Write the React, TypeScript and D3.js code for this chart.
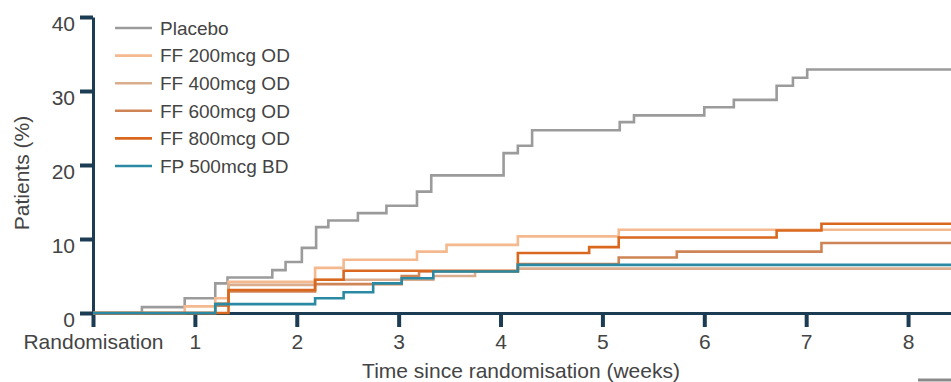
import React, { useEffect, useRef } from "react";
import { select, scaleLinear, axisBottom, axisLeft, line, curveStepAfter } from "d3";

// [weeks, patients %] step points
const placebo = [
  [0, 0], [0.48, 0.8], [0.9, 2.0], [1.2, 4.0], [1.32, 4.8], [1.76, 5.8], [1.89, 6.9],
  [2.05, 8.8], [2.19, 11.6], [2.31, 12.5], [2.6, 13.5], [2.88, 14.5], [3.18, 16.4],
  [3.32, 18.6], [4.03, 21.6], [4.17, 22.6], [4.31, 24.7], [5.17, 25.8], [5.31, 26.7],
  [6.0, 27.8], [6.29, 28.8], [6.71, 30.7], [6.87, 31.8], [7.01, 32.9], [8.5, 32.9],
];
const ff200 = [
  [0, 0], [0.9, 0.9], [1.2, 2.0], [1.33, 4.2], [2.18, 6.1], [2.46, 7.2], [3.18, 8.3],
  [3.47, 9.2], [4.17, 10.35], [5.16, 11.25], [8.5, 11.25],
];
const ff400 = [
  [0, 0], [1.2, 1.3], [1.33, 3.8], [2.18, 4.5], [3.34, 5.0], [3.75, 5.6], [4.17, 6.0], [8.5, 6.0],
];
const ff600 = [
  [0, 0], [1.2, 1.0], [1.33, 2.9], [2.18, 3.9], [3.03, 5.0], [3.2, 5.6], [4.17, 6.6],
  [5.16, 7.5], [5.73, 8.3], [7.15, 9.45], [8.45, 10.0], [8.5, 10.0],
];
const ff800 = [
  [0, 0], [1.33, 3.1], [2.18, 4.5], [2.46, 5.7], [4.17, 8.1], [4.87, 8.9], [5.16, 10.2],
  [6.71, 11.15], [7.15, 12.07], [8.5, 12.07],
];
const fp500 = [
  [0, 0], [1.2, 1.2], [2.18, 2.0], [2.46, 2.8], [2.75, 4.0], [3.03, 4.7], [3.34, 5.6],
  [4.17, 6.5], [8.5, 6.5],
];

const seriesNames = ["Placebo", "FF 200mcg OD", "FF 400mcg OD", "FF 600mcg OD", "FF 800mcg OD", "FP 500mcg BD"];
const seriesData = [placebo, ff200, ff400, ff600, ff800, fp500];
const seriesColors = ["#9b9b9b", "#f4b98f", "#d9ad8d", "#cf8455", "#d9681e", "#2a8aa3"];

const xTicks = [0, 1, 2, 3, 4, 5, 6, 7, 8];
const yTicks = [0, 10, 20, 30, 40];

const W = 951;
const H = 382;
const axisColor = "#1b3c53";
const textColor = "#444444";
const font = "'Liberation Sans', Arial, sans-serif";

function App() {
  const ref = useRef<SVGSVGElement>(null);

  useEffect(() => {
    const svg = select(ref.current);
    svg.selectAll("*").remove();

    const x = scaleLinear().domain([0, 8.5]).range([93, 959]);
    const y = scaleLinear().domain([0, 40]).range([313, 17]);

    // x axis
    const xa = svg.append("g").attr("transform", `translate(0,${y(0)})`);
    xa.call(
      axisBottom(x)
        .tickValues(xTicks)
        .tickSizeInner(14)
        .tickSizeOuter(0)
        .tickPadding(4)
        .tickFormat((d) => (d === 0 ? "Randomisation" : String(d)))
    );
    xa.select(".domain").attr("stroke", axisColor).attr("stroke-width", 3);
    xa.selectAll(".tick line").attr("stroke", axisColor).attr("stroke-width", 4);
    xa.selectAll(".tick text")
      .attr("fill", textColor)
      .attr("font-size", 21)
      .attr("font-family", font)
      .attr("dy", "0.85em");

    // y axis
    const ya = svg.append("g").attr("transform", `translate(${x(0)},0)`);
    ya.call(axisLeft(y).tickValues(yTicks).tickSizeInner(13).tickSizeOuter(0).tickPadding(5));
    ya.select(".domain").attr("stroke", axisColor).attr("stroke-width", 3);
    ya.selectAll(".tick line").attr("stroke", axisColor).attr("stroke-width", 4);
    ya.selectAll(".tick text")
      .attr("fill", textColor)
      .attr("font-size", 21)
      .attr("font-family", font)
      .attr("dy", "0.62em");

    // axis titles
    svg
      .append("text")
      .attr("x", 521)
      .attr("y", 378)
      .attr("text-anchor", "middle")
      .attr("fill", textColor)
      .attr("font-size", 21)
      .attr("font-family", font)
      .text("Time since randomisation (weeks)");
    svg
      .append("text")
      .attr("transform", `translate(29,173) rotate(-90)`)
      .attr("text-anchor", "middle")
      .attr("fill", textColor)
      .attr("font-size", 21)
      .attr("font-family", font)
      .text("Patients (%)");

    // step lines
    const stepLine = line<number[]>()
      .x((d) => x(d[0]))
      .y((d) => y(d[1]))
      .curve(curveStepAfter);
    svg
      .append("g")
      .selectAll("path")
      .data(seriesData)
      .join("path")
      .attr("d", (d) => stepLine(d))
      .attr("fill", "none")
      .attr("stroke", (d, i) => seriesColors[i])
      .attr("stroke-width", 2.6);

    // legend
    const lg = svg
      .append("g")
      .selectAll("g")
      .data(seriesNames)
      .join("g")
      .attr("transform", (d, i) => `translate(115,${28 + i * 27.6})`);
    lg.append("line")
      .attr("x1", 0)
      .attr("x2", 37)
      .attr("stroke", (d, i) => seriesColors[i])
      .attr("stroke-width", 2.6);
    lg.append("text")
      .attr("x", 45)
      .attr("dy", "0.36em")
      .attr("fill", textColor)
      .attr("font-size", 19)
      .attr("font-family", font)
      .text((d) => d);

    // cropped fragment at bottom right
    svg
      .append("line")
      .attr("x1", 918)
      .attr("x2", 951)
      .attr("y1", 380)
      .attr("y2", 380)
      .attr("stroke", "#8a8a8a")
      .attr("stroke-width", 3);
  }, []);

  return (
    <svg
      ref={ref}
      width={W}
      height={H}
      style={{ position: "absolute", left: 0, top: 0, background: "#fff" }}
    />
  );
}

export default App;
